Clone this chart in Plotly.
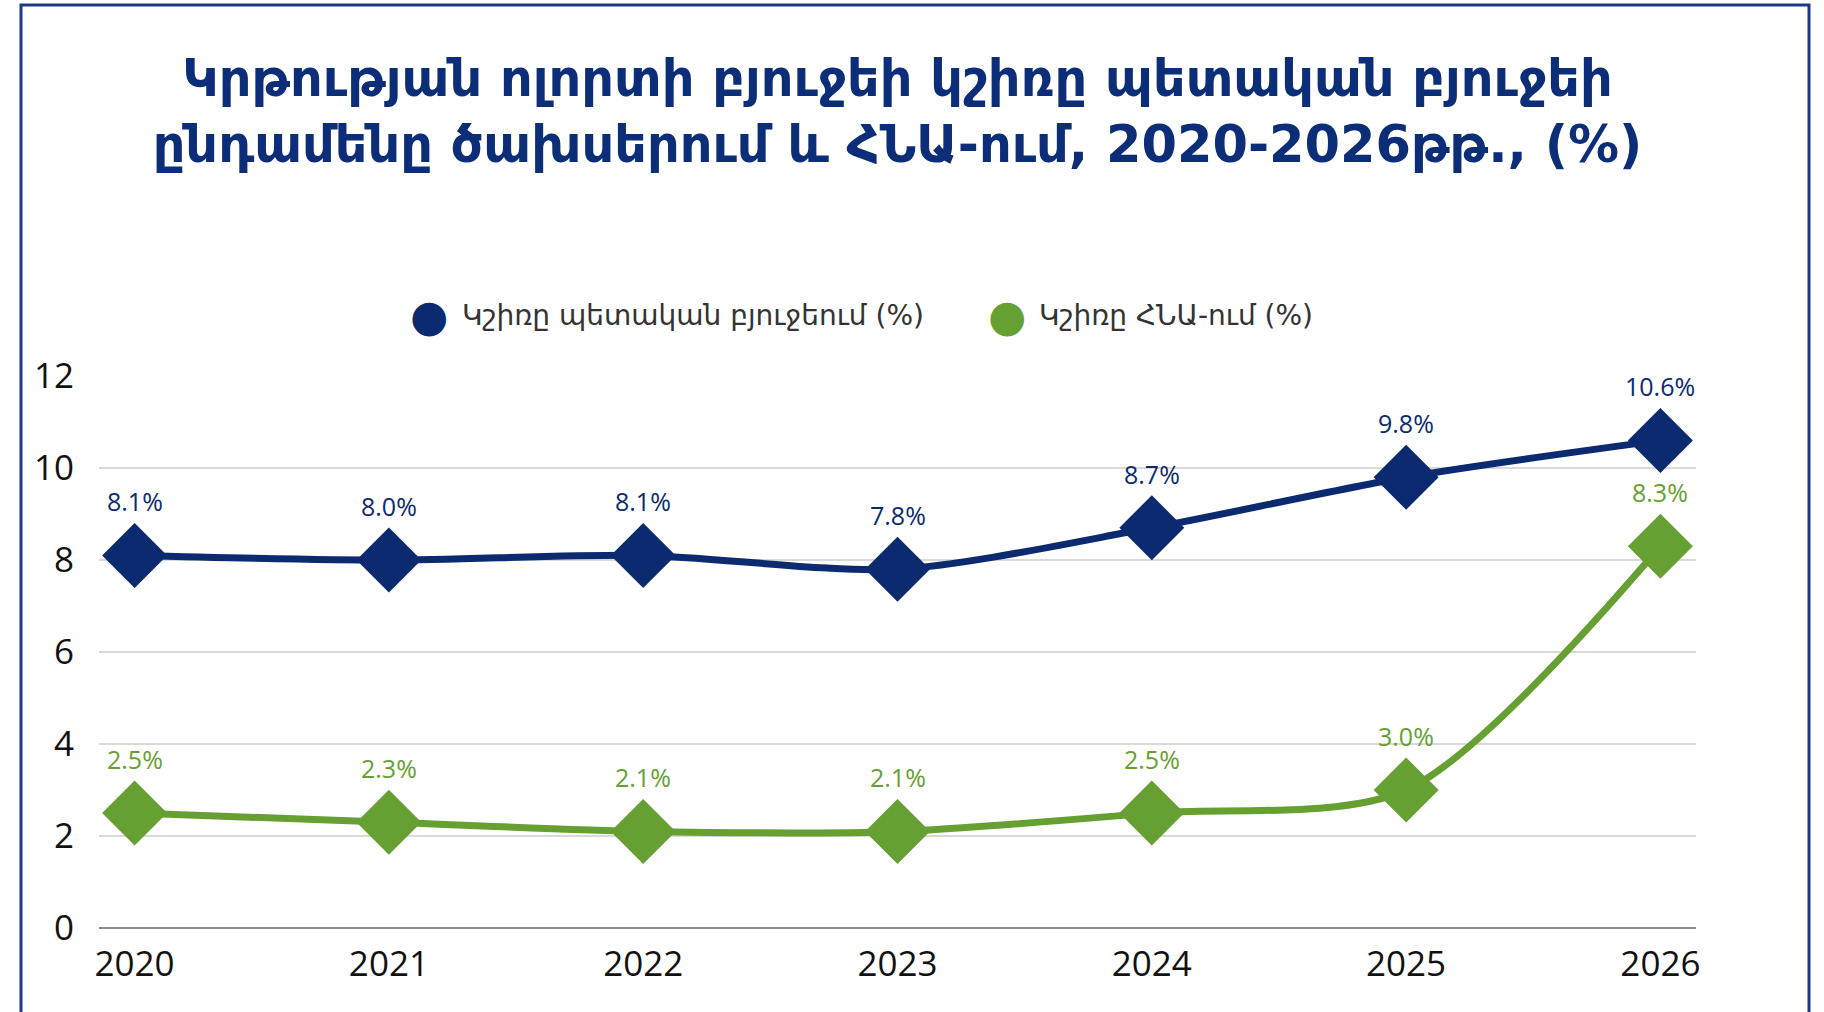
import plotly.graph_objects as go

years = ["2020", "2021", "2022", "2023", "2024", "2025", "2026"]
budget_share = [8.1, 8.0, 8.1, 7.8, 8.7, 9.8, 10.6]
gdp_share = [2.5, 2.3, 2.1, 2.1, 2.5, 3.0, 8.3]

budget_name = "Կշիռը պետական բյուջեում (%)"
gdp_name = "Կշիռը ՀՆԱ-ում (%)"
title_text = ("Կրթության ոլորտի բյուջեի կշիռը պետական բյուջեի<br>"
              "ընդամենը ծախսերում և ՀՆԱ-ում, 2020-2026թթ., (%)")

navy = "#0B2A70"
green = "#66A032"
arm_font = "DejaVu Sans"
num_font = "Open Sans"

x_idx = list(range(len(years)))

fig = go.Figure()

for vals, color in [(budget_share, navy), (gdp_share, green)]:
    fig.add_trace(go.Scatter(
        x=x_idx,
        y=vals,
        mode="lines+markers",
        line=dict(color=color, width=7, shape="spline", smoothing=0.8),
        marker=dict(symbol="diamond", size=50, color=color),
        showlegend=False,
        hoverinfo="skip",
    ))

annotations = []
for vals, color in [(budget_share, navy), (gdp_share, green)]:
    for i, v in zip(x_idx, vals):
        annotations.append(dict(
            x=i, y=v, xref="x", yref="y",
            text=f"{v:.1f}%",
            showarrow=False,
            yanchor="bottom",
            yshift=35,
            font=dict(family=num_font, size=25, color=color),
        ))

# legend drawn as text symbols + labels
for name, color, px_sym, px_txt in [(budget_name, navy, 429, 460), (gdp_name, green, 1007, 1037)]:
    annotations.append(dict(
        x=px_sym, y=315, xref="paper", yref="paper", text="●",
        showarrow=False, xanchor="center", yanchor="middle",
        font=dict(family=arm_font, size=44, color=color),
    ))
    annotations.append(dict(
        x=px_txt, y=315, xref="paper", yref="paper", text=name,
        showarrow=False, xanchor="left", yanchor="middle",
        font=dict(family=arm_font, size=28, color="#333333"),
    ))

W, H = 1824, 1012
L, R, T, B = 99, 128, 376, 84
pw, ph = W - L - R, H - T - B


def px_x(p):
    return (p - L) / pw


def px_y(p):
    return (H - B - p) / ph


# convert legend pixel positions to paper coords
for a in annotations:
    if a["xref"] == "paper":
        a["x"] = px_x(a["x"])
        a["y"] = px_y(a["y"])

fig.update_layout(
    width=W,
    height=H,
    title=dict(
        text=title_text,
        x=0.5,
        xref="paper",
        xanchor="center",
        y=1 - 96 / H,
        yanchor="middle",
        font=dict(family=arm_font, size=51, color="#0C2D78", weight="bold"),
    ),
    xaxis=dict(
        range=[-0.14, 6.14],
        tickmode="array",
        tickvals=x_idx,
        ticktext=years,
        showgrid=False,
        zeroline=False,
        showline=False,
        ticks="",
        tickfont=dict(family=num_font, size=35, color="#111111"),
        ticklabelstandoff=12,
    ),
    yaxis=dict(
        range=[0, 12],
        dtick=2,
        showgrid=True,
        gridcolor="#D9D9D9",
        gridwidth=1.5,
        zeroline=True,
        zerolinecolor="#8C8C8C",
        zerolinewidth=1.5,
        showline=False,
        ticks="",
        tickfont=dict(family=num_font, size=35, color="#111111"),
        ticklabelstandoff=24,
    ),
    annotations=annotations,
    shapes=[dict(
        type="rect", xref="paper", yref="paper",
        x0=px_x(21), x1=px_x(1809), y0=px_y(1100), y1=px_y(5),
        line=dict(color="#1B3A86", width=3),
        layer="below",
    )],
    paper_bgcolor="white",
    plot_bgcolor="white",
    margin=dict(l=L, r=R, t=T, b=B),
    showlegend=False,
)

fig.write_html("out.html", config={"displayModeBar": False},
               post_script="document.body.style.margin='0';")
